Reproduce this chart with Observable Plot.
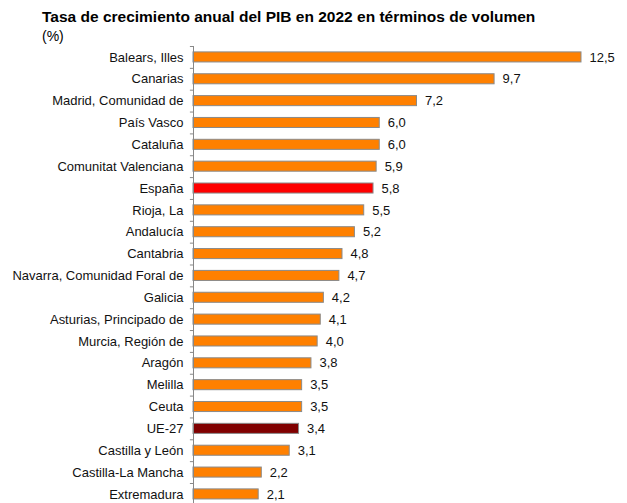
<!DOCTYPE html>
<html><head><meta charset="utf-8">
<script src="https://cdn.jsdelivr.net/npm/d3@7"></script>
<script src="https://cdn.jsdelivr.net/npm/@observablehq/plot@0.6"></script>
<style>
body{margin:0;background:#fff;font-family:"Liberation Sans",Arial,sans-serif;overflow:hidden;}
#t{position:absolute;left:42px;top:8px;font-size:15.5px;font-weight:bold;color:#000;white-space:nowrap;}
#u{position:absolute;left:42px;top:28px;font-size:14px;color:#000;}
#c{position:absolute;left:0;top:46px;}
</style></head><body>
<div id="t">Tasa de crecimiento anual del PIB en 2022 en términos de volumen</div>
<div id="u">(%)</div>
<div id="c"></div>
<script>
const regions = ["Balears, Illes","Canarias","Madrid, Comunidad de","País Vasco","Cataluña","Comunitat Valenciana","España","Rioja, La","Andalucía","Cantabria","Navarra, Comunidad Foral de","Galicia","Asturias, Principado de","Murcia, Región de","Aragón","Melilla","Ceuta","UE-27","Castilla y León","Castilla-La Mancha","Extremadura"];
const values = [12.5,9.7,7.2,6.0,6.0,5.9,5.8,5.5,5.2,4.8,4.7,4.2,4.1,4.0,3.8,3.5,3.5,3.4,3.1,2.2,2.1];
const kinds = regions.map(r => r === "España" ? "es" : r === "UE-27" ? "eu" : "reg");
const data = regions.map((r,i)=>({region:r, value:values[i], kind:kinds[i]}));
const fmt = v => v.toFixed(1).replace(".", ",");
const step = 21.85;
const chart = Plot.plot({
  width: 627,
  height: step*regions.length,
  marginLeft: 193, marginRight: 46, marginTop: 0, marginBottom: 0,
  style:{fontFamily:'"Liberation Sans",Arial,sans-serif', fontSize:"13px", color:"#111", background:"#fff"},
  x:{domain:[0,12.5], axis:null},
  y:{domain:regions, paddingInner:0.54, paddingOuter:0.27, round:false, label:null},
  color:{domain:["reg","es","eu"], range:["#FF8000","#FF0000","#800000"]},
  marks:[
    Plot.axisY({tickSize:0, tickPadding:10, label:null, fontSize:13}),
    Plot.barX(data,{y:"region", x:"value", fill:"kind", stroke:"#8a8a8a", strokeWidth:1}),
    Plot.text(data,{y:"region", x:"value", text:d=>fmt(d.value), textAnchor:"start", dx:8, fontSize:13, fill:"#111"}),
    Plot.ruleX([0],{stroke:"#888", strokeWidth:1}),
    Plot.ruleY(regions,{y:d=>d, x1:-0.1, x2:0, dy:-step/2, stroke:"#888"})
  ]
});
document.getElementById("c").appendChild(chart);
</script>
</body></html>
